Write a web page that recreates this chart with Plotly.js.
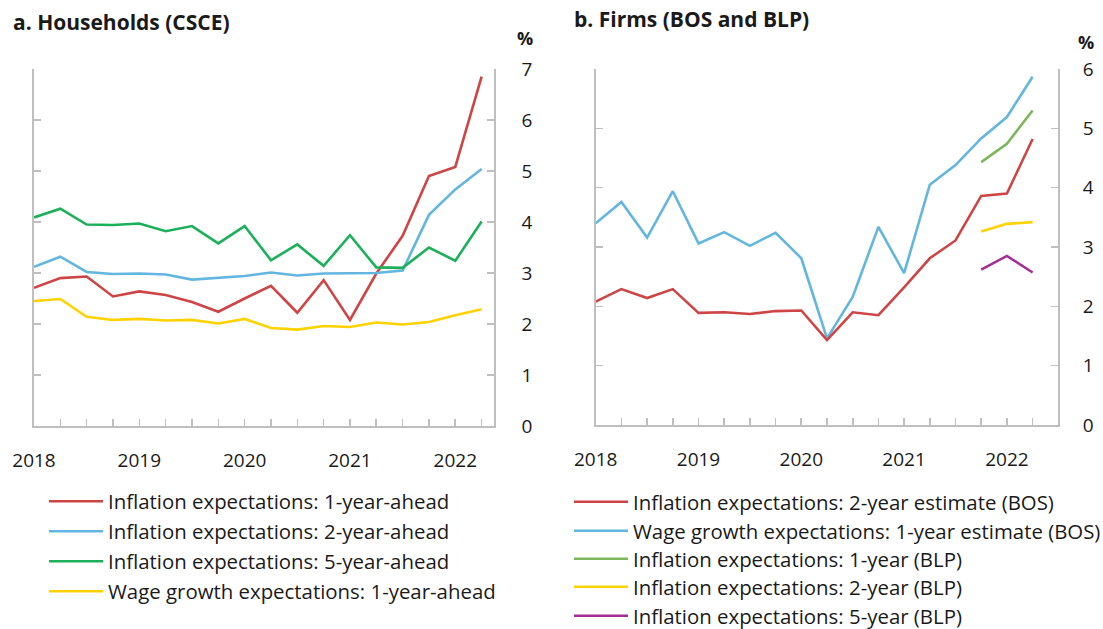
<!DOCTYPE html>
<html>
<head>
<meta charset="utf-8">
<script src="https://cdn.plot.ly/plotly-3.0.1.min.js"></script>
<style>html,body{margin:0;padding:0;background:#fff;}#chart{width:1103px;height:629px;}</style>
</head>
<body>
<div id="chart"></div>
<script>
// ---- data ----
const quarters = ['2018Q1','2018Q2','2018Q3','2018Q4','2019Q1','2019Q2','2019Q3','2019Q4',
                  '2020Q1','2020Q2','2020Q3','2020Q4','2021Q1','2021Q2','2021Q3','2021Q4',
                  '2022Q1','2022Q2'];
const yearTickQuarters = ['2018Q1','2019Q1','2020Q1','2021Q1','2022Q1'];
const yearLabels = ['2018','2019','2020','2021','2022'];

// Panel a: Households (CSCE)
const hhInfl1y = [2.71,2.90,2.93,2.54,2.64,2.57,2.43,2.24,2.50,2.75,2.22,2.86,2.08,2.99,3.73,4.90,5.08,6.85];
const hhInfl2y = [3.12,3.32,3.02,2.98,2.99,2.97,2.87,2.91,2.94,3.01,2.95,2.99,2.99,3.00,3.05,4.14,4.64,5.04];
const hhInfl5y = [4.09,4.26,3.95,3.94,3.97,3.82,3.92,3.58,3.92,3.25,3.56,3.14,3.74,3.11,3.10,3.50,3.24,4.01];
const hhWage1y = [2.45,2.49,2.14,2.08,2.10,2.07,2.08,2.01,2.10,1.92,1.89,1.96,1.94,2.03,1.99,2.04,2.17,2.29];

// Panel b: Firms (BOS and BLP)
const bosInfl2y = [2.08,2.29,2.14,2.29,1.89,1.90,1.87,1.92,1.93,1.43,1.90,1.85,2.32,2.81,3.11,3.86,3.90,4.82];
const bosWage1y = [3.40,3.76,3.16,3.94,3.06,3.25,3.02,3.24,2.81,1.46,2.16,3.34,2.56,4.05,4.38,4.83,5.19,5.87];
const blpInfl1y = [null,null,null,null,null,null,null,null,null,null,null,null,null,null,null,4.43,4.74,5.30];
const blpInfl2y = [null,null,null,null,null,null,null,null,null,null,null,null,null,null,null,3.26,3.39,3.42];
const blpInfl5y = [null,null,null,null,null,null,null,null,null,null,null,null,null,null,null,2.62,2.85,2.57];

// ---- styling ----
const W = 1103, H = 629;
const FONT = '"Open Sans", "Noto Sans", sans-serif';
const TXT = '#1a1a1a';
const AX = '#bfbfbf';
const C = {red:'#cd4545', blue:'#62b6e0', green:'#1db05a', yellow:'#ffd200', lgreen:'#7db75a', purple:'#a52d96'};

const xi = quarters.map((q, i) => i);
const tickPos = yearTickQuarters.map(q => quarters.indexOf(q));
const px = v => v / W;
const py = v => 1 - v / H;

function tr(y, name, color, xa, ya, leg) {
  return {x: xi, y: y, name: name, type: 'scatter', mode: 'lines', xaxis: xa, yaxis: ya,
          line: {color: color, width: 2.6}, legend: leg, connectgaps: false, hoverinfo: 'skip'};
}

const traces = [
  tr(hhInfl1y, 'Inflation expectations: 1-year-ahead', C.red, 'x', 'y', 'legend'),
  tr(hhInfl2y, 'Inflation expectations: 2-year-ahead', C.blue, 'x', 'y', 'legend2'),
  tr(hhInfl5y, 'Inflation expectations: 5-year-ahead', C.green, 'x', 'y', 'legend3'),
  tr(hhWage1y, 'Wage growth expectations: 1-year-ahead', C.yellow, 'x', 'y', 'legend4'),
  tr(bosInfl2y, 'Inflation expectations: 2-year estimate (BOS)', C.red, 'x2', 'y2', 'legend5'),
  tr(bosWage1y, 'Wage growth expectations: 1-year estimate (BOS)', C.blue, 'x2', 'y2', 'legend6'),
  tr(blpInfl1y, 'Inflation expectations: 1-year (BLP)', C.lgreen, 'x2', 'y2', 'legend7'),
  tr(blpInfl2y, 'Inflation expectations: 2-year (BLP)', C.yellow, 'x2', 'y2', 'legend8'),
  tr(blpInfl5y, 'Inflation expectations: 5-year (BLP)', C.purple, 'x2', 'y2', 'legend9')
];
// draw red BOS line above blue at the crossing, as in the reference
traces.push(traces.splice(4,1)[0]);

function xax(domain, range, anchor) {
  return {domain: domain, range: range, anchor: anchor, showgrid: false, zeroline: false,
          showline: true, linecolor: AX, linewidth: 1.6, ticks: 'inside', ticklen: 7, tickwidth: 1.6,
          tickcolor: AX, tickmode: 'array', tickvals: tickPos, ticktext: yearLabels,
          minor: {tickmode: 'linear', tick0: 0, dtick: 1, ticks: 'inside', ticklen: 7, tickwidth: 1.6, tickcolor: AX, showgrid: false},
          tickfont: {family: FONT, size: 19, color: TXT}, ticklabelstandoff: 17, automargin: false, fixedrange: true};
}
function yax(domain, range, anchor, standoff) {
  return {domain: domain, range: range, anchor: anchor, side: 'right', showgrid: false, zeroline: false,
          showline: true, mirror: 'ticks', linecolor: AX, linewidth: 1.6, ticks: 'inside', ticklen: 7,
          tickwidth: 1.6, tickcolor: AX, dtick: 1, tick0: 0, automargin: false,
          tickfont: {family: FONT, size: 19, color: TXT}, ticklabelstandoff: standoff, fixedrange: true};
}

function leg(xLeft, yCenter) {
  return {x: px(xLeft), y: py(yCenter), xanchor: 'left', yanchor: 'middle', bgcolor: 'rgba(0,0,0,0)',
          borderwidth: 0, itemwidth: 54, font: {family: FONT, size: 20.4, color: TXT}, itemclick: false, itemdoubleclick: false};
}

const layout = {
  width: W, height: H, margin: {l: 0, r: 0, t: 0, b: 0, autoexpand: false}, paper_bgcolor: '#fff', plot_bgcolor: '#fff',
  font: {family: FONT, color: TXT}, showlegend: true,
  xaxis: xax([px(34), px(494)], [0, 17.47], 'y'),
  yaxis: yax([py(426), py(69)], [0, 7], 'x', 22),
  xaxis2: xax([px(595.7), px(1058.3)], [0, 18.0], 'y2'),
  yaxis2: yax([py(425), py(69)], [0, 6], 'x2', 19),
  legend: leg(44, 501.5), legend2: leg(44, 531.5), legend3: leg(44, 561.5), legend4: leg(44, 591.5),
  legend5: leg(569, 502), legend6: leg(569, 531), legend7: leg(569, 559), legend8: leg(569, 587), legend9: leg(569, 616),
  annotations: [
    {text: '<b>a. Households (CSCE)</b>', xref: 'paper', yref: 'paper', x: px(11), y: py(22), xanchor: 'left', yanchor: 'middle', showarrow: false, font: {family: FONT, size: 21, color: TXT}},
    {text: '<b>b. Firms (BOS and BLP)</b>', xref: 'paper', yref: 'paper', x: px(572), y: py(19), xanchor: 'left', yanchor: 'middle', showarrow: false, font: {family: FONT, size: 21, color: TXT}},
    {text: '<b>%</b>', xref: 'paper', yref: 'paper', x: px(525), y: py(38), xanchor: 'center', yanchor: 'middle', showarrow: false, font: {family: FONT, size: 18, color: TXT}},
    {text: '<b>%</b>', xref: 'paper', yref: 'paper', x: px(1086), y: py(42), xanchor: 'center', yanchor: 'middle', showarrow: false, font: {family: FONT, size: 18, color: TXT}}
  ]
};

Plotly.newPlot('chart', traces, layout, {staticPlot: true, displayModeBar: false});
</script>
</body>
</html>
